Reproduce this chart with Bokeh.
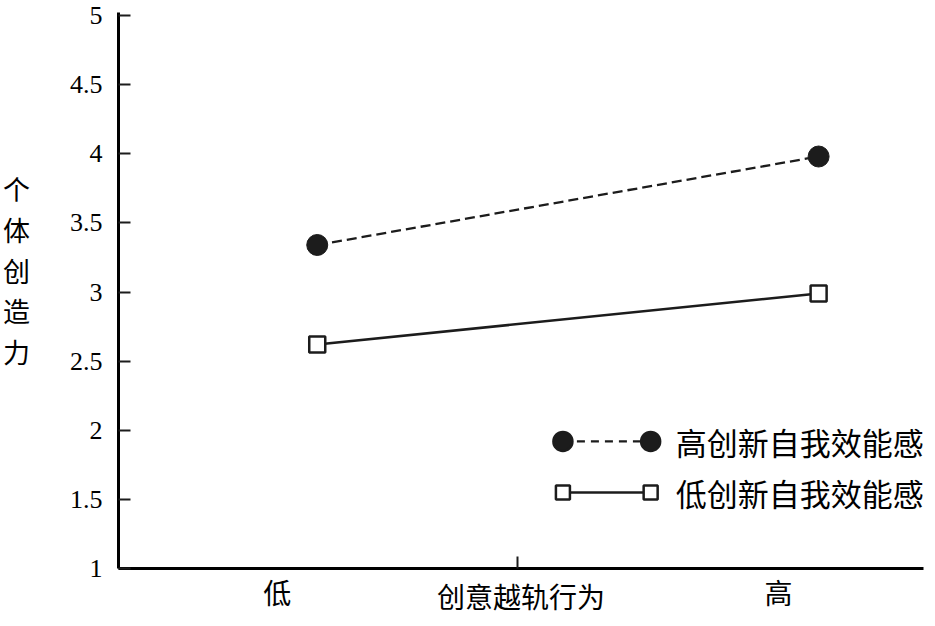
from bokeh.plotting import figure
from bokeh.models import Range1d, FixedTicker, Label, LinearAxis, NumeralTickFormatter
from bokeh.embed import file_html
from bokeh.resources import INLINE

# ---------------- data ----------------
categories = ["低", "高"]
x_title = "创意越轨行为"
y_title = "个体创造力"
series_names = ["高创新自我效能感", "低创新自我效能感"]
high_efficacy = [3.34, 3.98]
low_efficacy = [2.62, 2.99]
y_ticks = [1, 1.5, 2, 2.5, 3, 3.5, 4, 4.5, 5]

# ---------------- layout constants ----------------
X_START, X_END = -0.3964, 1.2092
Y_START, Y_END = 1, 5.0217
LABEL_SHIFT = -0.08      # category labels sit a little left of the points
MID_TICK = 0.40          # the single tick mark on the x axis
LEGEND_X = (0.49, 0.665)
LEGEND_TEXT_X = 0.715
LEGEND_Y = (1.919, 1.55)
INK = "#1c1c1c"
CJK = "Noto Sans CJK SC"

xs = list(range(len(categories)))

p = figure(width=927, height=618, output_backend="svg", toolbar_location=None,
           x_range=Range1d(X_START, X_END), y_range=Range1d(Y_START, Y_END),
           x_axis_location=None,
           min_border_left=117, min_border_right=4, min_border_top=12, min_border_bottom=50)
p.outline_line_color = None
p.grid.visible = False
p.background_fill_color = "white"
p.border_fill_color = "white"

# y axis
ya = p.yaxis[0]
ya.ticker = FixedTicker(ticks=y_ticks)
ya.formatter = NumeralTickFormatter(format="0.[0]")
ya.axis_line_width = 3
ya.axis_line_color = "black"
ya.major_tick_in = 12
ya.major_tick_out = 0
ya.major_tick_line_width = 2
ya.major_tick_line_color = INK
ya.minor_tick_in = 0
ya.minor_tick_out = 0
ya.major_label_standoff = 16
ya.major_label_text_font = "Liberation Serif"
ya.major_label_text_font_size = "26px"
ya.major_label_text_color = "black"
# stacked upright characters; the trailing line break lifts the block a little
ya.axis_label = "\n".join(y_title) + "\n"
ya.axis_label_orientation = "horizontal"
ya.axis_label_text_font = CJK
ya.axis_label_text_font_size = "27px"
ya.axis_label_text_font_style = "normal"
ya.axis_label_text_color = "black"
ya.axis_label_text_line_height = 1.05
ya.axis_label_standoff = 37

# x axis on a range shifted so category labels sit left of the points
p.extra_x_ranges = {"lab": Range1d(X_START - LABEL_SHIFT, X_END - LABEL_SHIFT)}
xa = LinearAxis(x_range_name="lab")
xa.ticker = FixedTicker(ticks=xs, minor_ticks=[MID_TICK - LABEL_SHIFT])
xa.major_label_overrides = {i: c for i, c in zip(xs, categories)}
xa.axis_line_width = 3
xa.axis_line_color = "black"
xa.major_tick_in = 0
xa.major_tick_out = 0
xa.minor_tick_in = 12
xa.minor_tick_out = 0
xa.minor_tick_line_width = 2
xa.minor_tick_line_color = INK
xa.major_label_standoff = 3
xa.major_label_text_font = CJK
xa.major_label_text_font_size = "28px"
xa.major_label_text_color = "black"
xa.axis_label = x_title
xa.axis_label_text_font = CJK
xa.axis_label_text_font_size = "28px"
xa.axis_label_text_font_style = "normal"
xa.axis_label_text_color = "black"
xa.axis_label_standoff = -39
p.add_layout(xa, "below")

# data
p.line(xs, high_efficacy, line_color=INK, line_width=2.3, line_dash="10 5")
p.scatter(xs, high_efficacy, marker="circle", size=21, fill_color=INK, line_color=INK)
p.line(xs, low_efficacy, line_color=INK, line_width=2.5)
p.scatter(xs, low_efficacy, marker="square", size=16, fill_color="white",
          line_color=INK, line_width=2.5)

# legend (markers at both ends of the sample line)
styles = [dict(dash="8 6", marker="circle", size=19, fill=INK, lw=2.3),
          dict(dash="solid", marker="square", size=14, fill="white", lw=2.5)]
for name, yv, st in zip(series_names, LEGEND_Y, styles):
    p.line(list(LEGEND_X), [yv, yv], line_color=INK, line_width=st["lw"], line_dash=st["dash"])
    p.scatter(list(LEGEND_X), [yv, yv], marker=st["marker"], size=st["size"],
              fill_color=st["fill"], line_color=INK, line_width=2.5)
    p.add_layout(Label(x=LEGEND_TEXT_X, y=yv, text=name, text_baseline="middle",
                       text_font=CJK, text_font_size="31px", text_color="black"))

open("out.html", "w").write(file_html(p, INLINE))
